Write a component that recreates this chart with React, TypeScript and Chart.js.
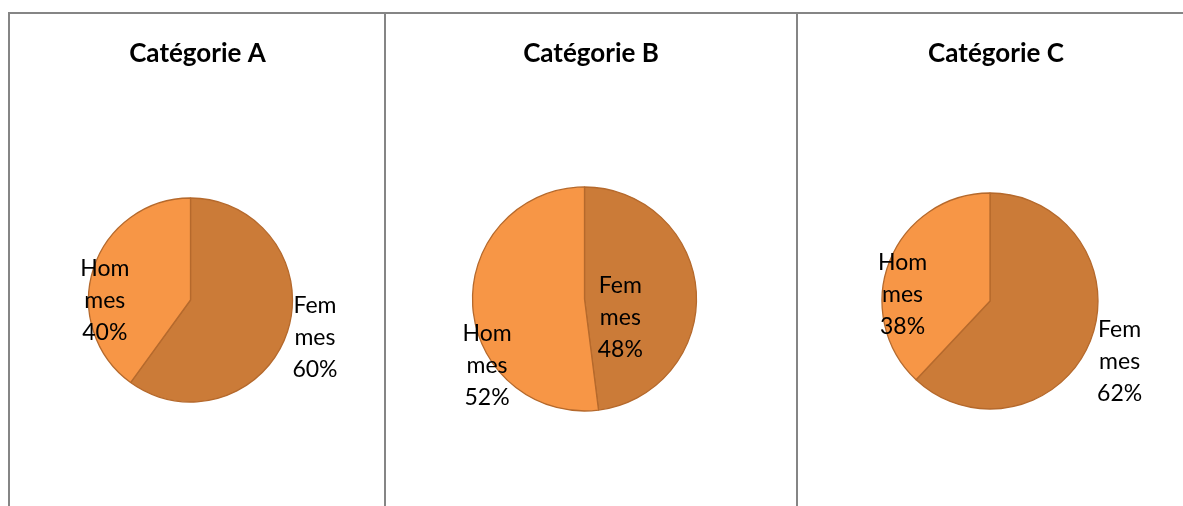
import React, { useEffect, useRef } from "react";
import { Chart, registerables } from "chart.js";

Chart.register(...registerables);

const categories = ["Femmes", "Hommes"];
const chartTitles = ["Catégorie A", "Catégorie B", "Catégorie C"];
const valuesA = [60, 40];
const valuesB = [48, 52];
const valuesC = [62, 38];
const allValues = [valuesA, valuesB, valuesC];

// styling / layout config (not data)
const sliceColors = ["#CB7B38", "#F79646"];
const sliceBorder = "#B5692C";
const cells = [
  { left: 10, width: 374, cx: 180.5, cy: 286, r: 102, titleX: 187.5, labels: [[1.22, 0.44], [-0.84, 0.08]] },
  { left: 386, width: 410, cx: 198.5, cy: 285, r: 112, titleX: 205, labels: [[0.32, 0.23], [-0.87, 0.66]] },
  { left: 798, width: 396, cx: 192, cy: 287, r: 108, titleX: 198, labels: [[1.2, 0.63], [-0.81, 0.01]] },
];
const CANVAS_TOP = 14;
const CANVAS_H = 492;
const FONT = "Lato, 'Open Sans', sans-serif";

function wrapName(name: string): string[] {
  const out: string[] = [];
  for (let i = 0; i < name.length; i += 3) out.push(name.slice(i, i + 3));
  return out;
}

function PieCell({ idx }: { idx: number }) {
  const ref = useRef<HTMLCanvasElement | null>(null);
  useEffect(() => {
    const cell = cells[idx];
    const values = allValues[idx];
    const W = cell.width;
    const H = CANVAS_H;
    const labelPlugin = {
      id: "excelLabels",
      afterDatasetsDraw(chart: any) {
        const ctx = chart.ctx;
        const meta = chart.getDatasetMeta(0);
        const data = chart.data.datasets[0].data as number[];
        const total = data.reduce((a, b) => a + b, 0);
        ctx.save();
        // title
        ctx.fillStyle = "#000";
        ctx.font = `bold 26px ${FONT}`;
        ctx.textAlign = "center";
        ctx.textBaseline = "alphabetic";
        ctx.fillText(chartTitles[idx], cell.titleX, 48);
        // labels
        ctx.font = `23px ${FONT}`;
        meta.data.forEach((arc: any, i: number) => {
          const r = arc.outerRadius;
          const [fx, fy] = cell.labels[i];
          const x = arc.x + fx * r;
          const y = arc.y + fy * r;
          const pct = Math.round((data[i] / total) * 100) + "%";
          const lines = [...wrapName(chart.data.labels[i]), pct];
          const lh = 32;
          lines.forEach((t, k) => {
            ctx.fillText(t, x, y + (k - 1) * lh);
          });
        });
        ctx.restore();
      },
    };
    const chart = new Chart(ref.current as HTMLCanvasElement, {
      type: "pie",
      data: {
        labels: categories,
        datasets: [
          {
            data: values,
            backgroundColor: sliceColors,
            borderColor: sliceBorder,
            borderWidth: 1.3,
          },
        ],
      },
      options: {
        responsive: false,
        animation: false,
        radius: cell.r,
        layout: {
          padding: {
            left: cell.cx - cell.r,
            right: W - (cell.cx + cell.r),
            top: cell.cy - cell.r,
            bottom: H - (cell.cy + cell.r),
          },
        },
        plugins: {
          legend: { display: false },
          title: { display: false },
          tooltip: { enabled: false },
        },
      } as any,
      plugins: [labelPlugin],
    });
    return () => chart.destroy();
  }, [idx]);
  const cell = cells[idx];
  return (
    <canvas
      ref={ref}
      width={cell.width}
      height={CANVAS_H}
      style={{ position: "absolute", left: cell.left, top: CANVAS_TOP, width: cell.width, height: CANVAS_H }}
    />
  );
}

export default function App() {
  const line = "#858585";
  return (
    <div style={{ position: "fixed", left: 0, top: 0, width: 1183, height: 506, overflow: "hidden", background: "#fff" }}>
      <div style={{ position: "absolute", left: 8, top: 12, width: 1175, height: 2, background: line }} />
      <div style={{ position: "absolute", left: 8, top: 12, width: 2, height: 494, background: line }} />
      <div style={{ position: "absolute", left: 384, top: 12, width: 2, height: 494, background: line }} />
      <div style={{ position: "absolute", left: 796, top: 12, width: 2, height: 494, background: line }} />
      {cells.map((_, i) => (
        <PieCell key={i} idx={i} />
      ))}
    </div>
  );
}
